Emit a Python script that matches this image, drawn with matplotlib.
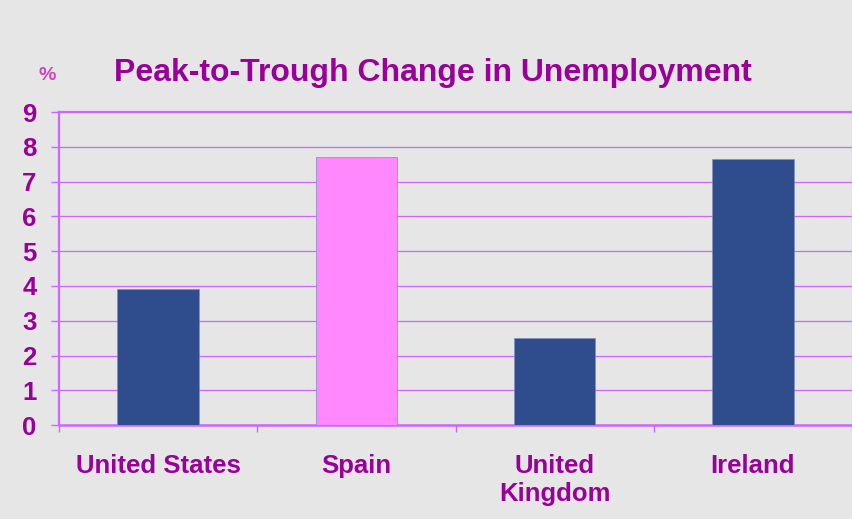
import matplotlib.pyplot as plt
import numpy as np

plt.rcParams['font.family'] = ['Liberation Sans', 'DejaVu Sans']

countries = ["United States", "Spain", "United\nKingdom", "Ireland"]
change = [3.9, 7.7, 2.5, 7.65]
colors = ["#2f4d8c", "#ff88ff", "#2f4d8c", "#2f4d8c"]

purple = "#990099"
grid = "#cc66ff"

fig = plt.figure(figsize=(8.53, 5.19), dpi=100, facecolor="#e6e6e6")
ax = fig.add_axes([0.069, 0.181, 0.93, 0.603])
ax.set_facecolor("#e6e6e6")

x = np.arange(len(countries))
ax.bar(x, change, width=0.41, color=colors, edgecolor="#7f8fb8", linewidth=0.5, zorder=3)

ax.set_xlim(-0.5, len(countries) - 0.5)
ax.set_ylim(0, 9)
ax.set_yticks(range(10))
ax.yaxis.grid(True, color=grid, linewidth=0.9, zorder=0)
ax.tick_params(axis="y", colors=grid, length=6, width=1, labelcolor=purple, labelsize=18.5, pad=10)
for lab in ax.get_yticklabels():
    lab.set_fontweight("bold")

# category boundary ticks
ax.set_xticks(np.arange(-0.5, len(countries), 1.0))
ax.set_xticklabels([])
ax.tick_params(axis="x", colors=grid, length=5, width=1)
for i, name in enumerate(countries):
    ax.text(i, -0.83, name, ha="center", va="top", color=purple,
            fontsize=18.5, fontweight="bold", linespacing=1.2)

ax.spines["top"].set_color(grid)
ax.spines["top"].set_linewidth(1.6)
ax.spines["left"].set_color(grid)
ax.spines["left"].set_linewidth(1.6)
ax.spines["bottom"].set_color(grid)
ax.spines["bottom"].set_linewidth(1.8)
ax.spines["right"].set_color("#ddb3f0")
ax.spines["right"].set_linewidth(1)

fig.text(0.507, 0.859, "Peak-to-Trough Change in Unemployment", ha="center", va="center",
         color=purple, fontsize=23, fontweight="bold")
fig.text(0.055, 0.855, "%", ha="center", va="center", color="#cc44bb", fontsize=14, fontweight="bold")

fig.savefig("out.png", dpi=100, facecolor=fig.get_facecolor())
